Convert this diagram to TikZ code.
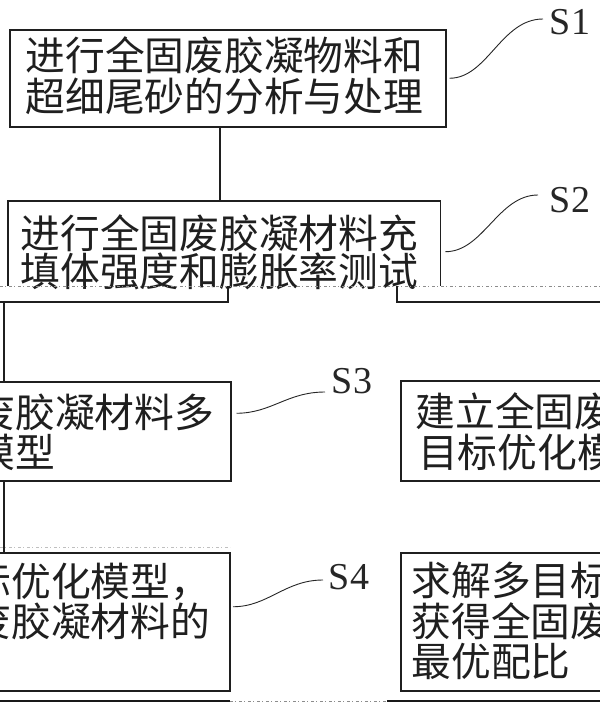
\documentclass[tikz,border=0pt]{standalone}
\usepackage{fontspec}
\newfontfamily\cjkfont{Noto Sans CJK SC}
\newfontfamily\labfont{Liberation Serif}
\begin{document}
\begin{tikzpicture}[x=1pt,y=-1pt,
  box/.style={draw=black!88, line width=1.5pt, rectangle, inner sep=0pt},
  frame/.style={rectangle, inner sep=0pt},
  link/.style={line width=1.5pt, draw=black!88},
  txt/.style={font=\cjkfont\fontsize{39.75}{40}\selectfont, inner sep=0pt, anchor=west, text=black!88},
  lab/.style={font=\labfont\fontsize{38}{38}\selectfont, inner sep=0pt, text=black!85},
  wave/.style={line width=0.9pt, draw=black!85},
  seam/.style={line width=0.8pt, draw=black!45, dash pattern=on 3pt off 2pt on 1pt off 3pt}
]
\useasboundingbox (0,0) rectangle (600,702);
\clip (0,0) rectangle (600,702);
\fill[white] (0,0) rectangle (600,702);

% ---- upper part ----
\node[box, minimum width=436pt, minimum height=97pt, anchor=north west] (b1) at (9,29) {};
\node[txt] (t1a) at (25.5,55) {进行全固废胶凝物料和};
\node[txt] (t1b) at (25.5,96) {超细尾砂的分析与处理};

\node[frame, minimum width=432pt, minimum height=85pt, anchor=north west] (b2) at (8,201) {};
\draw[link] (b2.south west) -- (b2.north west) -- (b2.north east) -- (b2.south east);
\node[txt] (t2a) at (20.5,233) {进行全固废胶凝材料充};
\node[txt] (t2b) at (20.5,271) {填体强度和膨胀率测试};

\coordinate (vx) at (220,0);
\draw[link] (b1.south -| vx) -- (b2.north -| vx);

\node[lab] (l1) at (570,22) {S1};
\coordinate (w1) at (543,19);
\draw[wave] ([xshift=3pt]b1.east) .. controls +(38,0) and +(-42,0) .. (w1);

\node[lab] (l2) at (570,200) {S2};
\coordinate (w2) at (538,195);
\draw[wave] ([xshift=5pt,yshift=-8pt]b2.east) .. controls +(38,0) and +(-40,0) .. (w2);

% seam
\draw[seam] (0,286) -- (600,286);

% ---- branch lines ----
\coordinate (jL) at (228,302);
\coordinate (jR) at (397,302);
\draw[link] (0,302) -- (jL) -- (228,286);
\draw[link] (397,286) -- (jR) -- (600,302);

% ---- lower part, left copy ----
\node[box, minimum width=429pt, minimum height=99pt, anchor=north west] (b3L) at (-199,381) {};
\node[txt] (t3La) at (-24.5,412) {废胶凝材料多};
\node[txt] (t3Lb) at (-24.5,452) {模型};

\node[box, minimum width=428pt, minimum height=138pt, anchor=north west] (b4L) at (-199,552) {};
\node[txt] (t4La) at (-28.5,582) {标优化模型，};
\node[txt] (t4Lb) at (-28.5,621) {废胶凝材料的};

\coordinate (vL) at (4,0);
\draw[link] (4,302) -- (b3L.north -| vL);
\draw[link] (b3L.south -| vL) -- (b4L.north -| vL);

% ---- lower part, right copy ----
\node[box, minimum width=429pt, minimum height=100pt, anchor=north west] (b3R) at (400,380) {};
\node[txt] (t3Ra) at (415.5,411) {建立全固废};
\node[txt] (t3Rb) at (418,452) {目标优化模};

\node[box, minimum width=429pt, minimum height=138pt, anchor=north west] (b4R) at (400,552) {};
\node[txt] (t4Ra) at (411.5,580) {求解多目标};
\node[txt] (t4Rb) at (411.5,621) {获得全固废};
\node[txt] (t4Rc) at (411.5,661) {最优配比};

% ---- step labels ----
\node[lab] (l3) at (352,381) {S3};
\coordinate (w3) at (325,392);
\draw[wave] ([xshift=5pt,yshift=18pt]b3L.east) .. controls +(35,0) and +(-38,0) .. (w3);

\node[lab] (l4) at (349,577) {S4};
\coordinate (w4) at (323,580);
\draw[wave] ([xshift=2.5pt,yshift=15pt]b4L.east) .. controls +(35,0) and +(-38,0) .. (w4);

% faint seams and bottom rule
\draw[seam, draw=black!25] (0,547) -- (230,547);
\draw[line width=2pt, black!90] (0,701) -- (230,701);
\draw[seam] (230,701) -- (387,701);
\draw[line width=2pt, black!90] (387,701) -- (600,701);
\end{tikzpicture}
\end{document}
